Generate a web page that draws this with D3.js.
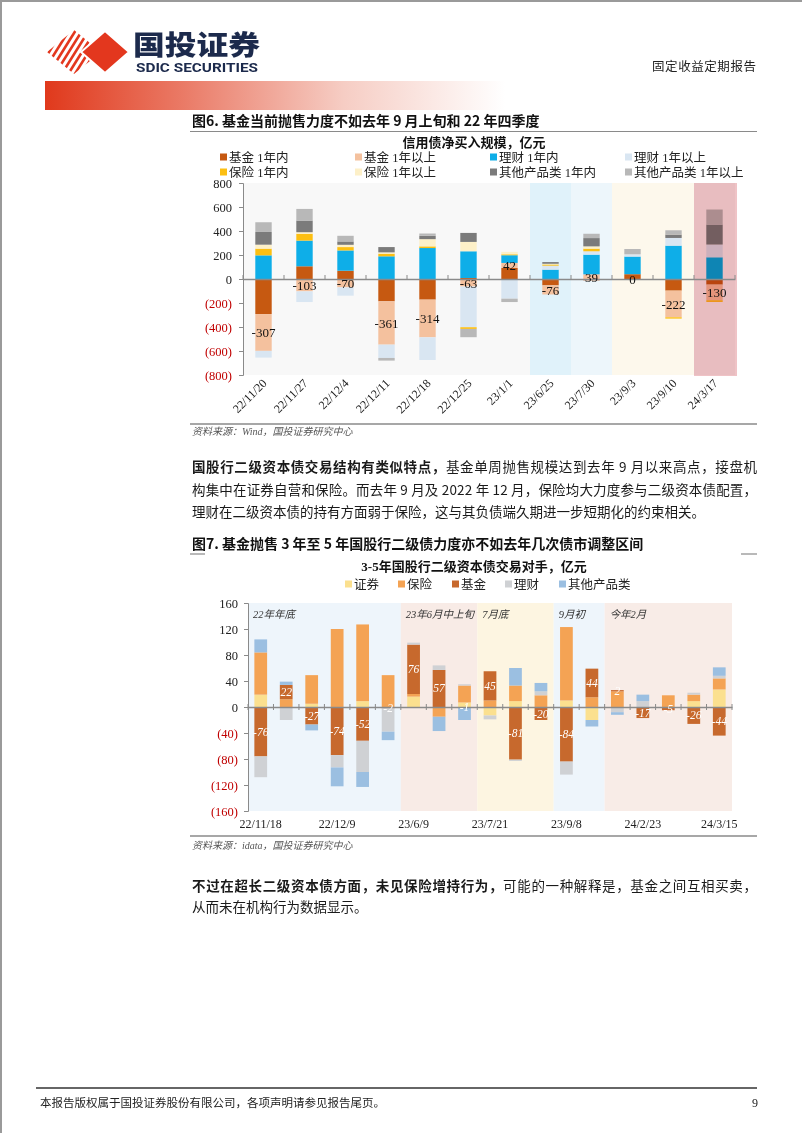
<!DOCTYPE html>
<html><head><meta charset="utf-8">
<script src="https://cdn.jsdelivr.net/npm/d3@7"></script>
<style>body{margin:0;background:#fff} svg{display:block}</style>
</head><body><svg id="page" width="802" height="1133"></svg>
<script>
// ---------------- Chart 1 data ----------------
const dates1 = ["22/11/20","22/11/27","22/12/4","22/12/11","22/12/18","22/12/25","23/1/1","23/6/25","23/7/30","23/9/3","23/9/10","24/3/17"];
const keys1 = ["基金 1年内","基金 1年以上","理财 1年内","理财 1年以上","保险 1年内","保险 1年以上","其他产品类 1年内","其他产品类 1年以上"];
const fundShort1  = [-292, 106, 69, -186, -172, 8, 92, -53, -11, 40, -97, -47];
const fundLong1   = [-307, -103, -70, -361, -314, -63, 42, -76, 39, 0, -222, -130];
const wmShort1    = [197, 214, 169, 189, 258, 223, 64, 78, 164, 147, 278, 181];
const wmLong1     = [-56, -89, -69, -111, -189, -339, -164, 33, 28, 19, 64, 106];
const insShort1   = [56, 56, 28, 22, 14, -14, 8, 10, 22, 0, -11, -14];
const insLong1    = [33, 14, 19, 11, 60, 78, 20, 6, 19, 0, 0, 0];
const othShort1   = [106, 97, 28, 44, 28, 75, 0, 14, 69, 0, 28, 167];
const othLong1    = [81, 97, 47, -22, 19, -69, -28, 0, 36, 44, 36, 125];
const fundLabels1 = ["-307","-103","-70","-361","-314","-63","42","-76","39","0","-222","-130"];
const yTicks1 = [-800,-600,-400,-200,0,200,400,600,800];

// ---------------- Chart 2 data ----------------
const dates2 = ["22/11/18","22/11/25","22/12/2","22/12/9","22/12/16","22/12/23","23/6/9","23/6/16","23/6/21","23/7/21","23/7/28","23/8/4","23/9/8","23/9/15","24/2/9","24/2/23","24/3/1","24/3/8","24/3/15"];
const shownDates2 = ["22/11/18","22/12/9","23/6/9","23/7/21","23/9/8","24/2/23","24/3/15"];
const keys2 = ["证券","保险","基金","理财","其他产品类"];
const sec2  = [19, 0, 5, 0, 9, 0, 16, 0, 7, -13, 9, 0, 10, -20, 0, 0, 0, 9, 27];
const ins2  = [65, 12, 44, 120, 118, 49, 4, -15, 26, 10, 24, 18, 113, 15, 24, 0, 18, 10, 17];
const fund2 = [-76, 22, -27, -74, -52, -2, 76, 57, -1, 45, -81, -20, -84, 44, 2, -17, -5, -26, -44];
const wm2   = [-32, -20, 0, -19, -48, -36, 3, 7, 2, -6, -2, 6, -20, 0, -8, 9, 0, 3, 4];
const oth2  = [20, 5, -9, -29, -23, -13, 0, -22, -19, 0, 27, 13, 0, -10, -4, 10, 0, 0, 13];
const yTicks2 = [-160,-120,-80,-40,0,40,80,120,160];
const bands2 = [
  {from:"22/11/18", to:"22/12/23", label:"22年年底", color:"#eef5fb"},
  {from:"23/6/9", to:"23/6/21", label:"23年6月中上旬", color:"#f8ebe6"},
  {from:"23/7/21", to:"23/8/4", label:"7月底", color:"#fdf5e1"},
  {from:"23/9/8", to:"23/9/15", label:"9月初", color:"#eef5fb"},
  {from:"24/2/9", to:"24/3/15", label:"今年2月", color:"#f8ece7"}
];

// ---------------- styles ----------------
const SERIF = "'Liberation Serif','Noto Sans CJK SC',serif";
const CJK = "'Noto Sans CJK SC','Noto Sans',sans-serif";
const colors1 = ["#c65911","#f4c19e","#0eaee8","#d9e6f2","#fcbf12","#fdf0c8","#7b7b7b","#b8b8b8"];
const colors2 = ["#fbe08f","#f4a354","#c7692d","#cfd1d4","#9bbfe1"];
const NEG = "#c00000";

const svg = d3.select("#page");
const defs = svg.append("defs");

// page edge
svg.append("line").attr("x1",0).attr("x2",802).attr("y1",1).attr("y2",1).attr("stroke","#9a9a9a").attr("stroke-width",2);
svg.append("line").attr("x1",1).attr("x2",1).attr("y1",0).attr("y2",1133).attr("stroke","#9a9a9a").attr("stroke-width",2);

// ---------------- header ----------------
const grad = defs.append("linearGradient").attr("id","hdr").attr("x1","0").attr("x2","1").attr("y1","0").attr("y2","0");
[[0,"#e0391c",1],[0.3,"#ea7a66",1],[0.65,"#f6cdc4",1],[1,"#ffffff",1]].forEach(s=>grad.append("stop").attr("offset",s[0]).attr("stop-color",s[1]).attr("stop-opacity",s[2]));
svg.append("rect").attr("x",45).attr("y",81).attr("width",460).attr("height",29).attr("fill","url(#hdr)");

defs.append("clipPath").attr("id","stripeclip").append("polygon").attr("points","74,30 101,52 74,74 47,52");
const sg = svg.append("g").attr("clip-path","url(#stripeclip)");
for (let i=0;i<10;i++){
  const x0 = 34 + i*6.6;
  sg.append("line").attr("x1",x0).attr("y1",76).attr("x2",x0+30).attr("y2",28).attr("stroke","#e3371e").attr("stroke-width",2.6);
}
svg.append("polygon").attr("points","105,31 129,52 105,73 81,52").attr("fill","#e3371e").attr("stroke","#fff").attr("stroke-width",2);
svg.append("text").attr("x",133).attr("y",55).attr("font-family",CJK).attr("font-weight",900).attr("font-size",27)
  .attr("fill","#1c2a4c").attr("textLength",127).attr("lengthAdjust","spacingAndGlyphs").text("国投证券");
svg.append("text").attr("x",136).attr("y",72).attr("font-family","'Liberation Sans Narrow','Roboto','Liberation Sans',sans-serif").attr("font-weight",700).attr("font-size",12)
  .attr("fill","#1c2a4c").attr("textLength",122).attr("lengthAdjust","spacingAndGlyphs").text("SDIC SECURITIES");
svg.append("text").attr("x",652).attr("y",71).attr("font-family",CJK).attr("font-size",12.5).attr("fill","#222")
  .attr("textLength",104).attr("lengthAdjust","spacing").text("固定收益定期报告");

// ---------------- Figure 6 ----------------
svg.append("text").attr("x",192).attr("y",126).attr("font-family",CJK).attr("font-weight",700).attr("font-size",14).attr("fill","#111")
  .text("图6. 基金当前抛售力度不如去年 9 月上旬和 22 年四季度");
svg.append("line").attr("x1",190).attr("x2",757).attr("y1",131.5).attr("y2",131.5).attr("stroke","#8a8a8a").attr("stroke-width",1.2);

svg.append("text").attr("x",474).attr("y",146.5).attr("text-anchor","middle").attr("font-family",SERIF).attr("font-weight",700).attr("font-size",13).attr("fill","#111")
  .text("信用债净买入规模，亿元");

// legend 1
const legX1 = [220, 355, 490, 625], legY1 = [157, 172];
keys1.forEach((k,i)=>{
  const lx = legX1[i%4], ly = legY1[Math.floor(i/4)];
  svg.append("rect").attr("x",lx).attr("y",ly-3.5).attr("width",7).attr("height",7).attr("fill",colors1[i]);
  svg.append("text").attr("x",lx+9).attr("y",ly+4.5).attr("font-family",SERIF).attr("font-size",12.5).attr("fill","#222").text(k);
});

const x1 = d3.scaleBand().domain(dates1).range([243,735]).paddingInner(0.6).paddingOuter(0.3);
const y1 = d3.scaleLinear().domain([-800,800]).range([375,183]);
const colStart1 = d => x1(d) - (x1.step()-x1.bandwidth())/2;
const g1 = svg.append("g");
g1.append("rect").attr("x",243).attr("y",183).attr("width",492).attr("height",192).attr("fill","#f8f8f8");
[["23/6/25","23/6/25","#e0f2fa"],["23/7/30","23/7/30","#edf6fb"],["23/9/3","23/9/10","#fdf8ec"]].forEach(b=>{
  g1.append("rect").attr("x",colStart1(b[0])).attr("y",183).attr("width",colStart1(b[1])+x1.step()-colStart1(b[0])).attr("height",192).attr("fill",b[2]);
});

const vals1 = [fundShort1,fundLong1,wmShort1,wmLong1,insShort1,insLong1,othShort1,othLong1];
const rows1 = dates1.map((d,i)=>{const o={date:d}; keys1.forEach((k,j)=>o[k]=vals1[j][i]); return o;});
const stack1 = d3.stack().keys(keys1).offset(d3.stackOffsetDiverging)(rows1);
stack1.forEach((s,j)=>{
  g1.append("g").attr("fill",colors1[j]).selectAll("rect").data(s).join("rect")
    .attr("x",d=>x1(d.data.date)).attr("width",x1.bandwidth())
    .attr("y",d=>y1(Math.max(d[0],d[1]))).attr("height",d=>Math.abs(y1(d[0])-y1(d[1])));
});
// pink highlight overlay (multiply blend)
g1.append("rect").attr("x",colStart1("24/3/17")).attr("y",183).attr("width",x1.step()+2).attr("height",193)
  .attr("fill","#efc3c6").style("mix-blend-mode","multiply");

// axes 1
const yAx1 = g1.append("g").attr("transform","translate(243,0)")
  .call(d3.axisLeft(y1).tickValues(yTicks1).tickSize(4).tickFormat(d=>d<0?`(${-d})`:d));
yAx1.select(".domain").attr("stroke","#8a8a8a");
yAx1.selectAll(".tick line").attr("stroke","#8a8a8a");
yAx1.selectAll(".tick text").attr("font-family",SERIF).attr("font-size",12.5).attr("x",-11)
  .attr("fill",d=>d<0?NEG:"#222");
const xAx1 = g1.append("g").attr("transform",`translate(0,${y1(0)})`)
  .call(d3.axisBottom(x1).tickSize(0).tickFormat(""));
xAx1.select(".domain").attr("stroke","#8a8a8a").attr("stroke-width",1.3);
dates1.concat(["_end"]).forEach((d,i)=>{
  const xx = 243 + i*x1.step();
  g1.append("line").attr("x1",xx).attr("x2",xx).attr("y1",y1(0)-4).attr("y2",y1(0)).attr("stroke","#8a8a8a");
});
dates1.forEach(d=>{
  const cx = x1(d)+x1.bandwidth()/2+4;
  g1.append("text").attr("transform",`translate(${cx},384) rotate(-45)`).attr("text-anchor","end")
    .attr("font-family",SERIF).attr("font-size",12).attr("fill","#222").text(d);
});
// data labels (基金 1年以上)
stack1[1].forEach((d,i)=>{
  const mid = (d[0]+d[1])/2;
  g1.append("text").attr("x",x1(d.data.date)+x1.bandwidth()/2).attr("y",y1(mid)+5)
    .attr("text-anchor","middle").attr("font-family",SERIF).attr("font-size",13).attr("fill","#111").text(fundLabels1[i]);
});

svg.append("line").attr("x1",190).attr("x2",757).attr("y1",424).attr("y2",424).attr("stroke","#8a8a8a").attr("stroke-width",1.5);
svg.append("text").attr("x",192).attr("y",435).attr("font-family",SERIF).attr("font-style","italic").attr("font-size",10).attr("fill","#555")
  .text("资料来源：Wind，国投证券研究中心");

// ---------------- paragraph 1 ----------------
function para(y, parts, len){
  const t = svg.append("text").attr("x",192).attr("y",y).attr("font-family",CJK).attr("font-size",13.5).attr("fill","#1a1a1a");
  if (len) t.attr("textLength",len).attr("lengthAdjust","spacing");
  parts.forEach(p=>t.append("tspan").attr("font-weight",p[1]?700:400).text(p[0]));
}
para(472, [["国股行二级资本债交易结构有类似特点，",1],["基金单周抛售规模达到去年 9 月以来高点，接盘机",0]], 565);
para(495, [["构集中在证券自营和保险。而去年 9 月及 2022 年 12 月，保险均大力度参与二级资本债配置，",0]], 565);
para(517, [["理财在二级资本债的持有方面弱于保险，这与其负债端久期进一步短期化的约束相关。",0]], 0);

// ---------------- Figure 7 ----------------
svg.append("text").attr("x",192).attr("y",549).attr("font-family",CJK).attr("font-weight",700).attr("font-size",14).attr("fill","#111")
  .text("图7. 基金抛售 3 年至 5 年国股行二级债力度亦不如去年几次债市调整区间");
svg.append("line").attr("x1",190).attr("x2",205).attr("y1",554).attr("y2",554).attr("stroke","#8a8a8a").attr("stroke-width",1.2);
svg.append("line").attr("x1",741).attr("x2",757).attr("y1",554).attr("y2",554).attr("stroke","#8a8a8a").attr("stroke-width",1.2);

svg.append("text").attr("x",474).attr("y",570.5).attr("text-anchor","middle").attr("font-family",SERIF).attr("font-weight",700).attr("font-size",13).attr("fill","#111")
  .text("3-5年国股行二级资本债交易对手，亿元");
const legX2 = [345, 398, 452, 505, 559];
keys2.forEach((k,i)=>{
  svg.append("rect").attr("x",legX2[i]).attr("y",580.5).attr("width",7).attr("height",7).attr("fill",colors2[i]);
  svg.append("text").attr("x",legX2[i]+9).attr("y",589).attr("font-family",SERIF).attr("font-size",12.5).attr("fill","#222").text(k);
});

const x2 = d3.scaleBand().domain(dates2).range([248,732]).paddingInner(0.5).paddingOuter(0.25);
const y2 = d3.scaleLinear().domain([-160,160]).range([811,603]);
const colStart2 = d => x2(d) - (x2.step()-x2.bandwidth())/2;
const g2 = svg.append("g");
bands2.forEach(b=>{
  const xs = colStart2(b.from), xe = colStart2(b.to)+x2.step();
  g2.append("rect").attr("x",xs).attr("y",603).attr("width",xe-xs).attr("height",208).attr("fill",b.color);
  g2.append("text").attr("x",xs+5).attr("y",618).attr("font-family",SERIF).attr("font-style","italic").attr("font-size",10.5).attr("fill","#333").text(b.label);
});
const vals2 = [sec2,ins2,fund2,wm2,oth2];
const rows2 = dates2.map((d,i)=>{const o={date:d}; keys2.forEach((k,j)=>o[k]=vals2[j][i]); return o;});
const stack2 = d3.stack().keys(keys2).offset(d3.stackOffsetDiverging)(rows2);
stack2.forEach((s,j)=>{
  g2.append("g").attr("fill",colors2[j]).selectAll("rect").data(s).join("rect")
    .attr("x",d=>x2(d.data.date)).attr("width",x2.bandwidth())
    .attr("y",d=>y2(Math.max(d[0],d[1]))).attr("height",d=>Math.abs(y2(d[0])-y2(d[1])));
});
const yAx2 = g2.append("g").attr("transform","translate(248,0)")
  .call(d3.axisLeft(y2).tickValues(yTicks2).tickSize(4).tickFormat(d=>d<0?`(${-d})`:d));
yAx2.select(".domain").attr("stroke","#8a8a8a");
yAx2.selectAll(".tick line").attr("stroke","#8a8a8a");
yAx2.selectAll(".tick text").attr("font-family",SERIF).attr("font-size",12.5).attr("x",-10)
  .attr("fill",d=>d<0?NEG:"#222");
const xAx2 = g2.append("g").attr("transform",`translate(0,${y2(0)})`)
  .call(d3.axisBottom(x2).tickSize(0).tickFormat(""));
xAx2.select(".domain").attr("stroke","#8a8a8a").attr("stroke-width",1.3);
for (let i=0;i<=dates2.length;i++){
  const xx = 248 + i*x2.step();
  g2.append("line").attr("x1",xx).attr("x2",xx).attr("y1",y2(0)-3).attr("y2",y2(0)+3).attr("stroke","#8a8a8a");
}
shownDates2.forEach(d=>{
  g2.append("text").attr("x",x2(d)+x2.bandwidth()/2).attr("y",828).attr("text-anchor","middle")
    .attr("font-family",SERIF).attr("font-size",12).attr("fill","#222").text(d);
});
stack2[2].forEach((d,i)=>{
  const mid = (d[0]+d[1])/2;
  g2.append("text").attr("x",x2(d.data.date)+x2.bandwidth()/2).attr("y",y2(mid)+4)
    .attr("text-anchor","middle").attr("font-family",SERIF).attr("font-style","italic").attr("font-size",11.5)
    .attr("fill","#fff").text(fund2[i]);
});

svg.append("line").attr("x1",190).attr("x2",757).attr("y1",836).attr("y2",836).attr("stroke","#8a8a8a").attr("stroke-width",1.5);
svg.append("text").attr("x",192).attr("y",849).attr("font-family",SERIF).attr("font-style","italic").attr("font-size",10).attr("fill","#555")
  .text("资料来源：idata，国投证券研究中心");

para(891, [["不过在超长二级资本债方面，未见保险增持行为，",1],["可能的一种解释是，基金之间互相买卖，",0]], 565);
para(912, [["从而未在机构行为数据显示。",0]], 0);

// ---------------- footer ----------------
svg.append("line").attr("x1",36).attr("x2",757).attr("y1",1088).attr("y2",1088).attr("stroke","#666").attr("stroke-width",1.8);
svg.append("text").attr("x",40).attr("y",1107).attr("font-family",CJK).attr("font-size",11.5).attr("fill","#222")
  .text("本报告版权属于国投证券股份有限公司，各项声明请参见报告尾页。");
svg.append("text").attr("x",752).attr("y",1107).attr("font-family",SERIF).attr("font-size",12).attr("fill","#222").text("9");
</script></body></html>
